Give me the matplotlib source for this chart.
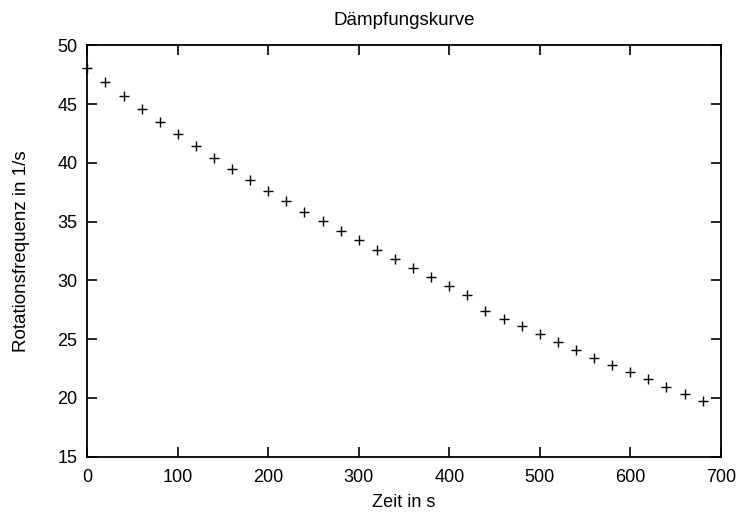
import matplotlib
matplotlib.use('Agg')
import matplotlib.pyplot as plt

plt.rcParams['font.family'] = ['Liberation Sans', 'DejaVu Sans']

# Messwerte: Zeit in s, Rotationsfrequenz in 1/s
zeit = [0, 20, 40, 60, 80, 100, 120, 140, 160, 180, 200, 220, 240, 260, 280,
        300, 320, 340, 360, 380, 400, 420, 440, 460, 480, 500, 520, 540, 560,
        580, 600, 620, 640, 660, 680]
frequenz = [48.1, 46.9, 45.7, 44.57, 43.47, 42.46, 41.4, 40.45, 39.5, 38.56,
            37.65, 36.75, 35.86, 35.05, 34.2, 33.41, 32.6, 31.84, 31.05, 30.28,
            29.52, 28.79, 27.4, 26.75, 26.08, 25.4, 24.72, 24.07, 23.42, 22.8,
            22.2, 21.58, 20.96, 20.34, 19.72]

x_ticks = [0, 100, 200, 300, 400, 500, 600, 700]
y_ticks = [15, 20, 25, 30, 35, 40, 45, 50]

fig = plt.figure(figsize=(7.4, 5.16), dpi=100)
ax = fig.add_axes([0.118, 0.115, 0.856, 0.797])

ax.plot(zeit, frequenz, '+', color='black', markersize=7, markeredgewidth=1.0,
        clip_on=False)

ax.set_xlim(0, 700)
ax.set_ylim(15, 50)
ax.set_xticks(x_ticks)
ax.set_yticks(y_ticks)
ax.tick_params(axis='x', direction='in', length=7, width=1.2, top=True,
               labelsize=13, pad=9)
ax.tick_params(axis='y', direction='in', length=7, width=1.2, right=True,
               labelsize=13, pad=7)
for s in ax.spines.values():
    s.set_linewidth(1.3)

ax.set_title('Dämpfungskurve', fontsize=13.5, pad=15)
ax.set_xlabel('Zeit in s', fontsize=13, labelpad=6)
ax.set_ylabel('Rotationsfrequenz in 1/s', fontsize=13.5, labelpad=20)

fig.savefig('out.png', dpi=100)
